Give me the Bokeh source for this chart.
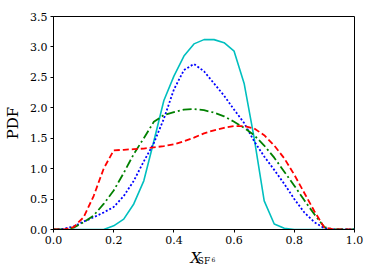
from bokeh.plotting import figure
from bokeh.models import Range1d, FixedTicker, Title
from bokeh.embed import file_html
from bokeh.resources import INLINE

x_vals = [i / 30 for i in range(31)]

cyan_solid = [0, 0, 0, 0, 0, 0, 0.06, 0.17, 0.42, 0.8, 1.45, 2.12, 2.52, 2.85, 3.05, 3.12,
              3.12, 3.07, 2.93, 2.4, 1.5, 0.47, 0.09, 0.02, 0, 0, 0, 0, 0, 0, 0]
blue_dotted = [0, 0.01, 0.05, 0.13, 0.2, 0.28, 0.37, 0.55, 0.8, 1.12, 1.42, 1.82, 2.3, 2.62,
               2.72, 2.6, 2.4, 2.2, 1.97, 1.75, 1.45, 1.2, 0.98, 0.75, 0.5, 0.28, 0.12, 0.02,
               0, 0, 0]
green_dashdot = [0, 0, 0.03, 0.12, 0.23, 0.42, 0.64, 0.93, 1.24, 1.5, 1.77, 1.88, 1.93, 1.97,
                 1.98, 1.96, 1.92, 1.86, 1.77, 1.67, 1.55, 1.38, 1.18, 0.95, 0.72, 0.48, 0.25,
                 0.04, 0, 0, 0]
red_dashed = [0, 0, 0.04, 0.2, 0.55, 1.0, 1.3, 1.31, 1.32, 1.33, 1.35, 1.37, 1.4, 1.45, 1.51,
              1.58, 1.63, 1.67, 1.7, 1.7, 1.66, 1.55, 1.38, 1.17, 0.9, 0.6, 0.3, 0.03, 0, 0, 0]

x_ticks = [0.0, 0.2, 0.4, 0.6, 0.8, 1.0]
y_ticks = [0.0, 0.5, 1.0, 1.5, 2.0, 2.5, 3.0, 3.5]

FONT = "DejaVu Serif"

p = figure(width=374, height=280, output_backend="svg", toolbar_location=None,
           x_range=Range1d(0, 1), y_range=Range1d(0, 3.5),
           min_border_left=53, min_border_top=16, min_border_right=20, min_border_bottom=51)
p.background_fill_color = "white"
p.border_fill_color = "white"
p.outline_line_color = "black"
p.outline_line_width = 1
p.grid.visible = False

for ax in (p.xaxis[0], p.yaxis[0]):
    ax.major_label_text_font = FONT
    ax.major_label_text_font_size = "11px"
    ax.major_label_text_color = "black"
    ax.axis_line_color = "black"
    ax.major_tick_line_color = "black"
    ax.major_tick_out = 3
    ax.major_tick_in = 0
    ax.minor_tick_line_color = None
    ax.major_label_standoff = 3
    ax.axis_label_text_font = FONT
    ax.axis_label_text_font_style = "normal"
    ax.axis_label_text_color = "black"

p.xaxis.ticker = FixedTicker(ticks=x_ticks)
p.yaxis.ticker = FixedTicker(ticks=y_ticks)
p.xaxis.major_label_overrides = {t: f"{t:.1f}" for t in x_ticks}
p.yaxis.major_label_overrides = {t: f"{t:.1f}" for t in y_ticks}

p.yaxis.axis_label = "PDF"
p.yaxis.axis_label_text_font_size = "15px"
p.yaxis.axis_label_standoff = 5

# x label: X (italic) + subscript SF + sub-subscript 6
p.xaxis.axis_label = "SF"
p.xaxis.axis_label_text_font_size = "9px"
p.xaxis.axis_label_standoff = 9

p.add_layout(Title(text="X", align="left", offset=137, vertical_align="top", standoff=-40,
                   text_font=FONT, text_font_style="italic", text_font_size="15px",
                   text_color="black"), "below")
p.add_layout(Title(text="6", align="left", offset=158, vertical_align="top", standoff=-23,
                   text_font=FONT, text_font_style="normal", text_font_size="6px",
                   text_color="black"), "below")

p.line(x_vals, cyan_solid, line_color="#00bfbf", line_width=1.6)
p.line(x_vals, blue_dotted, line_color="#0000ff", line_width=1.8, line_dash="2 2")
p.line(x_vals, green_dashdot, line_color="#008000", line_width=1.8, line_dash="9 3 2 3")
p.line(x_vals, red_dashed, line_color="#ff0000", line_width=1.8, line_dash="6 3")

open("out.html", "w").write(file_html(p, INLINE))
